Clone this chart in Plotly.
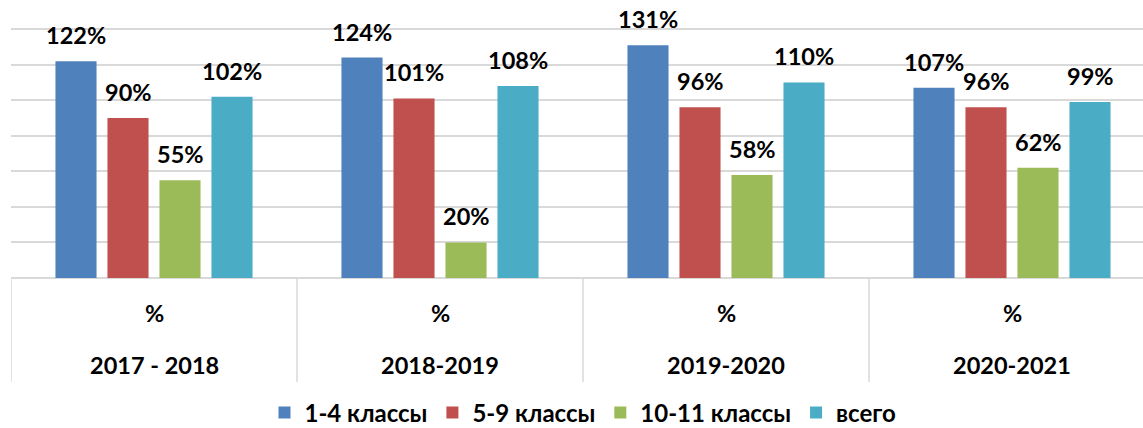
import plotly.graph_objects as go

years = ["2017 - 2018", "2018-2019", "2019-2020", "2020-2021"]
unit_labels = ["%", "%", "%", "%"]
series_names = ["1-4 классы", "5-9 классы", "10-11 классы", "всего"]
v_1_4 = [122, 124, 131, 107]
v_5_9 = [90, 101, 96, 96]
v_10_11 = [55, 20, 58, 62]
v_total = [102, 108, 110, 99]
series_values = [v_1_4, v_5_9, v_10_11, v_total]
colors = ["#4F81BD", "#C0504D", "#9BBB59", "#4BACC6"]

W, H = 1143, 428
ML, MT, MB = 11, 0, 150
plot_h = H - MT - MB
group_px = 286.0
plot_w = W - ML
x_max = -0.5 + plot_w / group_px
y_max = 156.4
bargap = 1 - 4 * 52 / group_px
bargroupgap = 0.21
pitch = group_px * (1 - bargap) / 4

FONT = "Lato"
FS = 23.5
fig = go.Figure()
for k, (name, vals, c) in enumerate(zip(series_names, series_values, colors)):
    fig.add_trace(go.Bar(
        x=list(range(len(years))), y=vals, name=f"<b>{name}</b>",
        marker=dict(color=c, line=dict(width=0)),
        cliponaxis=True,
    ))
    for i, v in enumerate(vals):
        fig.add_annotation(
            x=i, y=v, xref="x", yref="y", text=f"<b>{v}%</b>",
            showarrow=False, xshift=(k - 1.5) * pitch, yshift=26,
            yanchor="middle", xanchor="center",
            font=dict(family=FONT, size=FS, color="black"),
        )

line_col = "#D9D9D9"
for i in range(len(years) + 1):
    fig.add_shape(type="line", xref="x", yref="paper",
                  x0=i - 0.5, x1=i - 0.5, y0=0, y1=-104 / plot_h,
                  line=dict(color=line_col, width=1.5), layer="below")

for i, (yr, u) in enumerate(zip(years, unit_labels)):
    fig.add_annotation(x=i, y=-35 / plot_h, xref="x", yref="paper",
                       text=f"<b>{u}</b>", showarrow=False, yanchor="middle",
                       font=dict(family=FONT, size=FS, color="black"))
    fig.add_annotation(x=i, y=-87 / plot_h, xref="x", yref="paper",
                       text=f"<b>{yr}</b>", showarrow=False, yanchor="middle",
                       font=dict(family=FONT, size=FS, color="black"))

fig.update_layout(
    width=W, height=H,
    margin=dict(l=ML, r=0, t=MT, b=MB, autoexpand=False),
    paper_bgcolor="white", plot_bgcolor="white",
    barmode="group", bargap=bargap, bargroupgap=bargroupgap,
    showlegend=True,
    legend=dict(orientation="h", x=(583 - ML) / plot_w, xanchor="center",
                y=(plot_h - 413) / plot_h, yanchor="middle",
                font=dict(family=FONT, size=24, color="black"),
                itemwidth=30, traceorder="normal"),
    xaxis=dict(range=[-0.5, x_max], showticklabels=False, showgrid=False,
               zeroline=False, showline=False, ticks=""),
    yaxis=dict(range=[0, y_max], dtick=20, showticklabels=False,
               showgrid=True, gridcolor=line_col, gridwidth=1.5,
               zeroline=True, zerolinecolor=line_col, zerolinewidth=1.5,
               showline=False, ticks=""),
)

fig.write_html("out.html")
